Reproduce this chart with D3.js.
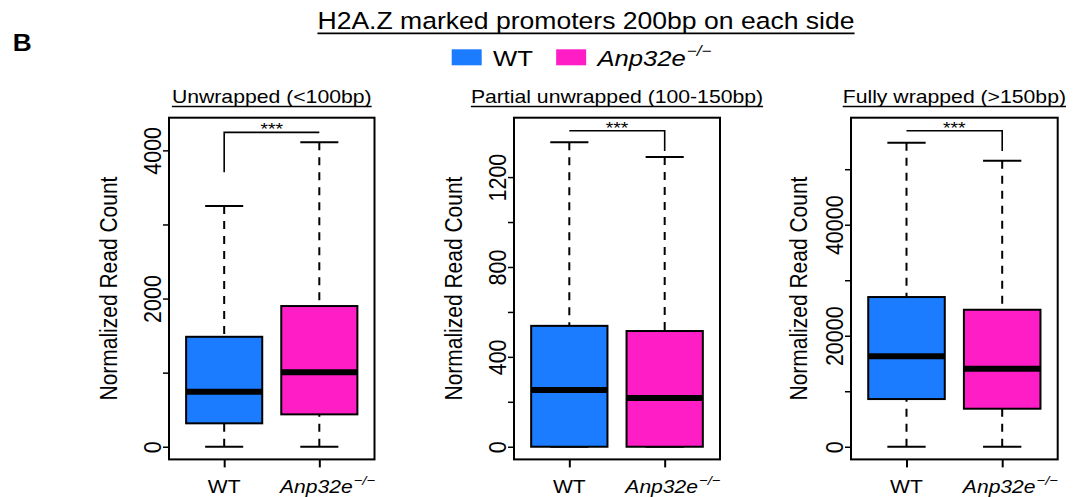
<!DOCTYPE html>
<html>
<head>
<meta charset="utf-8">
<script src="https://cdn.jsdelivr.net/npm/d3@7"></script>
<style>
  html, body { margin: 0; padding: 0; background: #fff; }
  svg { display: block; }
</style>
</head>
<body>
<script>
// ---- data -------------------------------------------------------------
const groups = ["WT", "Anp32e"];
const groupSup = ["", "\u2212/\u2212"];
const groupColors = ["#1c7cff", "#ff1ec6"];

const mainTitle = "H2A.Z marked promoters 200bp on each side";
const panelTitles = ["Unwrapped (<100bp)", "Partial unwrapped (100-150bp)", "Fully wrapped (>150bp)"];
const yTitle = "Normalized Read Count";

// box statistics per panel: [lower whisker, Q1, median, Q3, upper whisker]
const wtStats = [
  [0, 316, 742, 1484, 3248],
  [0, 0, 252, 538, 1355],
  [0, 8590, 16290, 26970, 54760]
];
const koStats = [
  [0, 437, 1004, 1899, 4108],
  [0, 0, 217, 515, 1289],
  [0, 6850, 14050, 24680, 51520]
];

// y-axis limits, tick steps and labelled-tick steps per panel
const yLimits = [4270, 1408, 57000];
const yTickMax = [4000, 1200, 50000];
const yTickStep = [1000, 200, 10000];
const yLabelStep = [2000, 400, 20000];

// significance brackets: bar height, left leg end, right leg end
const bracketTop = [4243, 1406, 56930];
const bracketLeft = [3703, 1406, 56930];
const bracketRight = [4243, 1316, 53270];
const sigLabels = ["***", "***", "***"];

// ---- layout -----------------------------------------------------------
const W = 1080, H = 497;
const SX = 1.14;                       // horizontal text stretch
const FONT = "'Liberation Sans', Arial, Helvetica, sans-serif";
const panelLeft = [169, 514, 851];
const panelWidth = [205.5, 206, 206.7];
const plotTop = 117.7, plotBottom = 459.4;
const yTitleOffset = [52.3, 51.7, 43.7];

const svg = d3.select("body").append("svg")
  .attr("width", W).attr("height", H)
  .attr("viewBox", `0 0 ${W} ${H}`);
svg.append("rect").attr("width", W).attr("height", H).attr("fill", "#fff");

// text helper: horizontally stretched text placed at (x, y)
function label(parent, x, y, str, size, opts = {}) {
  const rot = opts.rotate ? ` rotate(${opts.rotate})` : "";
  const t = parent.append("text")
    .attr("transform", `translate(${x},${y}) scale(${SX},1)${rot}`)
    .attr("font-family", FONT)
    .attr("font-size", size)
    .attr("font-weight", opts.weight || "normal")
    .attr("font-style", opts.italic ? "italic" : "normal")
    .attr("text-anchor", opts.anchor || "start")
    .attr("fill", "#000")
    .text(str);
  return t;
}

function underline(parent, textSel, cx, y, sw) {
  const w = textSel.node().getComputedTextLength() * SX;
  parent.append("line")
    .attr("x1", cx - w / 2).attr("x2", cx + w / 2)
    .attr("y1", y).attr("y2", y)
    .attr("stroke", "#000").attr("stroke-width", sw);
}

// ---- header -------------------------------------------------------------
label(svg, 12.7, 50.5, "B", 23, { weight: "bold" });

const titleX = 586;
const tt = label(svg, titleX, 28.5, mainTitle, 23.3, { anchor: "middle" });
underline(svg, tt, titleX, 33.3, 1.8);

// legend
{
  const lg = svg.append("g");
  let cx = 451.7;
  const base = 65.5, fs = 22.5;
  groups.forEach((g, i) => {
    lg.append("rect")
      .attr("x", cx).attr("y", 49.3).attr("width", 30).attr("height", 16)
      .attr("fill", groupColors[i]);
    cx += 30 + 11.3;
    const t = label(lg, cx, base, g, fs, { italic: i === 1 });
    cx += t.node().getComputedTextLength() * SX;
    if (groupSup[i]) {
      const s = label(lg, cx + 1, base - 10, groupSup[i], 15, { italic: true });
      cx += s.node().getComputedTextLength() * SX + 1;
    }
    cx += 23.3;
  });
}

// ---- panels -----------------------------------------------------------
panelTitles.forEach((title, p) => {
  const left = panelLeft[p], right = left + panelWidth[p];
  const g = svg.append("g");

  const x = d3.scaleLinear().domain([0.42, 2.58]).range([left, right]);
  const pad = 0.04 * yLimits[p];
  const y = d3.scaleLinear().domain([-pad, yLimits[p] + pad]).range([plotBottom, plotTop]);

  const boxHalf = 0.4, capHalf = 0.2;
  const stats = [wtStats[p], koStats[p]];

  stats.forEach((s, j) => {
    const pos = j + 1;
    const cx = x(pos);
    // whiskers (drawn from the whisker end toward the hinge)
    [[s[4], s[3]], [s[0], s[1]]].forEach(([a, b]) => {
      if (a === b) return;
      g.append("line")
        .attr("x1", cx).attr("x2", cx)
        .attr("y1", y(a)).attr("y2", y(b))
        .attr("stroke", "#000").attr("stroke-width", 2)
        .attr("stroke-dasharray", "8,7");
    });
    // staples
    [s[0], s[4]].forEach(v => {
      g.append("line")
        .attr("x1", x(pos - capHalf)).attr("x2", x(pos + capHalf))
        .attr("y1", y(v)).attr("y2", y(v))
        .attr("stroke", "#000").attr("stroke-width", 2);
    });
    // box
    g.append("rect")
      .attr("x", x(pos - boxHalf)).attr("width", x(pos + boxHalf) - x(pos - boxHalf))
      .attr("y", y(s[3])).attr("height", y(s[1]) - y(s[3]))
      .attr("fill", groupColors[j])
      .attr("stroke", "#000").attr("stroke-width", 2);
    // median
    g.append("line")
      .attr("x1", x(pos - boxHalf)).attr("x2", x(pos + boxHalf))
      .attr("y1", y(s[2])).attr("y2", y(s[2]))
      .attr("stroke", "#000").attr("stroke-width", 6);
  });

  // significance bracket
  g.append("path")
    .attr("d", `M${x(1)},${y(bracketLeft[p])}V${y(bracketTop[p])}H${x(2)}V${y(bracketRight[p])}`)
    .attr("fill", "none").attr("stroke", "#000").attr("stroke-width", 1.6);
  label(g, (x(1) + x(2)) / 2, y(bracketTop[p]) + 3, sigLabels[p], 17, { anchor: "middle" });

  // frame
  g.append("rect")
    .attr("x", left).attr("y", plotTop)
    .attr("width", right - left).attr("height", plotBottom - plotTop)
    .attr("fill", "none").attr("stroke", "#000").attr("stroke-width", 2);

  // y axis
  const yAxis = d3.axisLeft(y)
    .tickValues(d3.range(0, yTickMax[p] + 1, yTickStep[p]))
    .tickSize(6).tickSizeOuter(0)
    .tickFormat(d => (d % yLabelStep[p] === 0 ? String(d) : ""));
  const ya = g.append("g").attr("transform", `translate(${left},0)`).call(yAxis);
  ya.select(".domain").remove();
  ya.selectAll(".tick line").attr("stroke", "#000").attr("stroke-width", 1.5);
  ya.selectAll(".tick text")
    .attr("x", null).attr("dy", null)
    .attr("transform", `translate(-8,0) scale(${SX},1) rotate(-90)`)
    .attr("text-anchor", "middle")
    .attr("font-family", FONT).attr("font-size", 21.5).attr("fill", "#000");

  // x axis
  const xAxis = d3.axisBottom(x).tickValues([1, 2]).tickSize(8).tickSizeOuter(0).tickFormat("");
  const xa = g.append("g").attr("transform", `translate(0,${plotBottom})`).call(xAxis);
  xa.select(".domain").remove();
  xa.selectAll(".tick line").attr("stroke", "#000").attr("stroke-width", 2);

  // x labels
  groups.forEach((name, j) => {
    const cx = x(j + 1);
    const base = 493.3;
    const fs = 18.5;
    if (!groupSup[j]) {
      label(g, cx, base, name, fs, { anchor: "middle" });
    } else {
      const probe = label(g, 0, -100, name, fs, { italic: true });
      const w = probe.node().getComputedTextLength() * SX;
      probe.remove();
      label(g, cx - w / 2 - 3, base, name, fs, { italic: true });
      label(g, cx + w / 2 - 2, base - 8.5, groupSup[j], 13, { italic: true });
    }
  });

  // panel title
  const pcx = (left + right) / 2;
  const pt = label(g, pcx, 103.3, title, 18.6, { anchor: "middle" });
  underline(g, pt, pcx, 106.6, 1.5);

  // y title
  label(g, left - yTitleOffset[p], (plotTop + plotBottom) / 2, yTitle, 21, { anchor: "middle", rotate: -90 });
});
</script>
</body>
</html>
